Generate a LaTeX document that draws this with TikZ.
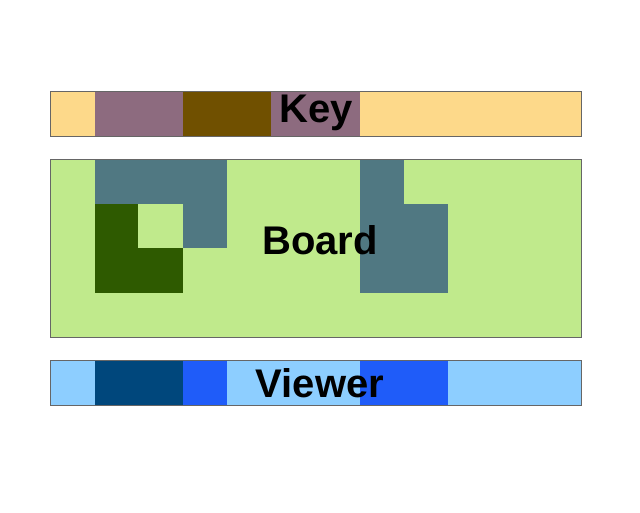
\documentclass[tikz,border=0pt]{standalone}
\usepackage{fontspec}
\setmainfont{Liberation Sans}
\begin{document}
\begin{tikzpicture}[x=1pt,y=-1pt,
  lbl/.style={font=\fontsize{40}{40}\selectfont\bfseries,inner sep=0pt,anchor=center},
  frame/.style={draw=black!60,line width=0.5pt}]
\definecolor{kl}{HTML}{FDD98A}\definecolor{km}{HTML}{8D6B7F}\definecolor{kb}{HTML}{705000}
\definecolor{bg}{HTML}{C0EA8C}\definecolor{bt}{HTML}{507882}\definecolor{bd}{HTML}{2E5A00}
\definecolor{vl}{HTML}{8DCEFF}\definecolor{vn}{HTML}{00477C}\definecolor{vb}{HTML}{1F5CF9}
\useasboundingbox (0,0) rectangle (640,512);
% Key
\fill[kl] (50,91) rectangle (581,136);
\fill[km] (95,91) rectangle (183,136);
\fill[kb] (183,91) rectangle (271,136);
\fill[km] (271,91) rectangle (360,136);
\draw[frame] (50,91) rectangle (581,136);
\node[lbl] (key) at (316,113) {Key};
% Board
\fill[bg] (50,159) rectangle (581,337);
\fill[bt] (95,159) rectangle (227,204);
\fill[bt] (183,204) rectangle (227,248);
\fill[bd] (95,204) rectangle (138,248);
\fill[bd] (95,248) rectangle (183,293);
\fill[bt] (360,159) rectangle (404,204);
\fill[bt] (360,204) rectangle (448,293);
\draw[frame] (50,159) rectangle (581,337);
\node[lbl] (board) at (320,240) {Board};
% Viewer
\fill[vl] (50,360) rectangle (581,405);
\fill[vn] (95,360) rectangle (183,405);
\fill[vb] (183,360) rectangle (227,405);
\fill[vb] (360,360) rectangle (448,405);
\draw[frame] (50,360) rectangle (581,405);
\node[lbl] (viewer) at (320,383) {Viewer};
\end{tikzpicture}
\end{document}
